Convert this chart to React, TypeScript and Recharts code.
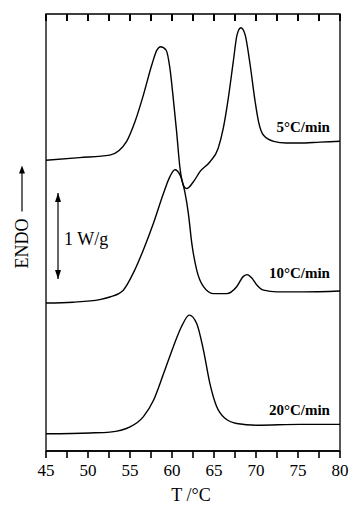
import React from "react";
import {
  Line,
  LineChart,
  ReferenceArea,
  ReferenceDot,
  ReferenceLine,
  XAxis,
  YAxis,
} from "recharts";

// DSC heating curves, heat flow in W/g (curves offset for clarity)
const T5 = [45, 49.0, 52.6, 54.6, 55.6, 56.6, 57.6, 58.2, 58.65, 59.3, 59.75, 60.15, 60.55, 60.95, 61.35, 61.75, 62.55, 63.35, 64.5, 65.5, 66.1, 66.7, 67.3, 67.75, 68.2, 68.7, 69.3, 69.9, 70.3, 70.9, 72.1, 73.6, 75.2, 77.6, 80];
const HF5 = [3.38, 3.41, 3.44, 3.6, 3.83, 4.14, 4.49, 4.66, 4.7, 4.66, 4.45, 4.1, 3.71, 3.29, 3.09, 3.05, 3.13, 3.25, 3.36, 3.52, 3.75, 4.1, 4.53, 4.84, 4.92, 4.84, 4.49, 4.06, 3.83, 3.67, 3.6, 3.58, 3.58, 3.59, 3.6];

const T10 = [45, 48.2, 51.4, 52.6, 54.2, 55.4, 56.6, 57.8, 59.0, 59.75, 60.35, 60.95, 61.55, 61.95, 62.35, 62.95, 63.75, 64.9, 66.5, 67.7, 68.5, 68.95, 69.5, 70.1, 70.9, 72.5, 75.6, 80];
const HF10 = [1.72, 1.73, 1.76, 1.79, 1.87, 2.07, 2.34, 2.65, 3.0, 3.19, 3.27, 3.21, 3.0, 2.76, 2.42, 2.1, 1.91, 1.83, 1.83, 1.91, 2.03, 2.05, 2.01, 1.93, 1.87, 1.85, 1.85, 1.86];

const T20 = [45, 50.2, 52.6, 55.0, 56.6, 57.8, 59.0, 60.15, 61.15, 62.05, 62.95, 63.75, 64.5, 65.3, 66.3, 67.7, 70.1, 75.2, 80];
const HF20 = [0.2, 0.21, 0.22, 0.28, 0.4, 0.59, 0.9, 1.21, 1.45, 1.58, 1.48, 1.17, 0.79, 0.52, 0.38, 0.32, 0.3, 0.31, 0.31];

const RATES = ["5°C/min", "10°C/min", "20°C/min"];
const X_TICKS = [45, 47.5, 50, 52.5, 55, 57.5, 60, 62.5, 65, 67.5, 70, 72.5, 75, 77.5, 80];

const Y_MAX = 5.08;
const FONT = "'Liberation Serif', 'Times New Roman', serif";

const toPoints = (t: number[], v: number[]) => t.map((x, i) => ({ t: x, v: v[i] }));

const series = [
  { name: RATES[0], data: toPoints(T5, HF5), labelY: 3.71 },
  { name: RATES[1], data: toPoints(T10, HF10), labelY: 2.01 },
  { name: RATES[2], data: toPoints(T20, HF20), labelY: 0.42 },
];

// short inward tick hanging from the top frame
const topTick = (p: any) => <rect x={p.cx - 1} y={p.cy} width={2} height={7} fill="#000" />;

const EndoLabel = ({ viewBox }: any) => {
  const cx = 22;
  const cy = viewBox.y + viewBox.height / 2 + 11;
  return (
    <g>
      <text
        x={cx}
        y={cy}
        transform={`rotate(-90 ${cx} ${cy})`}
        textAnchor="middle"
        dominantBaseline="central"
        fontFamily={FONT}
        fontSize={18}
        fill="#000"
      >
        ENDO
      </text>
      <line x1={cx} x2={cx} y1={cy - 32} y2={cy - 72} stroke="#000" strokeWidth={1.2} />
      <path d={`M${cx - 3},${cy - 70} L${cx},${cy - 78} L${cx + 3},${cy - 70} Z`} fill="#000" />
    </g>
  );
};

const arrowHead = (up: boolean) => (p: any) => {
  const { cx, cy } = p;
  const d = up
    ? `M${cx - 3},${cy + 9} L${cx},${cy} L${cx + 3},${cy + 9} Z`
    : `M${cx - 3},${cy - 9} L${cx},${cy} L${cx + 3},${cy - 9} Z`;
  return <path d={d} fill="#000" />;
};

const textShape = (text: string, size: number, bold: boolean, anchor: string) => (p: any) => (
  <text
    x={p.cx}
    y={p.cy}
    textAnchor={anchor}
    fontFamily={FONT}
    fontSize={size}
    fontWeight={bold ? "bold" : "normal"}
    fill="#000"
  >
    {text}
  </text>
);

export default function App() {
  return (
    <div style={{ position: "absolute", left: 0, top: 0, background: "#fff" }}>
      <LineChart width={350} height={513} margin={{ top: 14, right: 10, bottom: 32, left: 0 }}>
        <XAxis
          dataKey="t"
          type="number"
          domain={[45, 80]}
          ticks={X_TICKS}
          interval={0}
          height={30}
          tickSize={7}
          tickMargin={6}
          tickLine={{ stroke: "#000", strokeWidth: 1.6 }}
          axisLine={{ stroke: "#000", strokeWidth: 1.3 }}
          tick={{ fill: "#000", fontFamily: FONT, fontSize: 17 }}
          tickFormatter={(v: number) => (v % 5 === 0 ? String(v) : "")}
          allowDataOverflow
        />
        <YAxis
          type="number"
          domain={[0, Y_MAX]}
          width={46}
          tick={false}
          tickLine={false}
          axisLine={false}
          allowDataOverflow
          label={<EndoLabel />}
        />
        <ReferenceArea x1={45} x2={80} y1={0} y2={Y_MAX} fill="none" stroke="#000" strokeWidth={1.3} ifOverflow="visible" />
        {X_TICKS.map((t) => (
          <ReferenceDot key={`top-${t}`} x={t} y={Y_MAX} r={0} shape={topTick} />
        ))}
        {series.map((s) => (
          <Line
            key={s.name}
            data={s.data}
            dataKey="v"
            type="monotone"
            dot={false}
            stroke="#000"
            strokeWidth={1.4}
            isAnimationActive={false}
          />
        ))}
        {series.map((s) => (
          <ReferenceDot
            key={`lbl-${s.name}`}
            x={78.8}
            y={s.labelY}
            r={0}
            shape={textShape(s.name, 15, true, "end")}
          />
        ))}
        <ReferenceLine
          segment={[
            { x: 46.43, y: 2.0 },
            { x: 46.43, y: 3.0 },
          ]}
          stroke="#000"
          strokeWidth={1.2}
        />
        <ReferenceDot x={46.43} y={3.0} r={0} shape={arrowHead(true)} />
        <ReferenceDot x={46.43} y={2.0} r={0} shape={arrowHead(false)} />
        <ReferenceDot x={47.14} y={2.4} r={0} shape={textShape("1 W/g", 18, false, "start")} />
      </LineChart>
      <div
        style={{
          position: "absolute",
          left: 0,
          width: 350,
          top: 485,
          textAlign: "center",
          paddingLeft: 32,
          boxSizing: "border-box",
          fontFamily: FONT,
          fontSize: 18,
        }}
      >
        T /°C
      </div>
    </div>
  );
}
